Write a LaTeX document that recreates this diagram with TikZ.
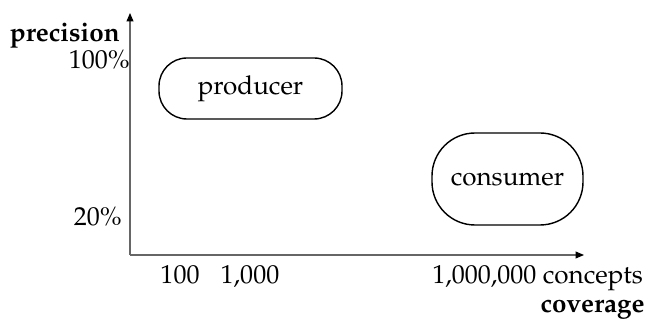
\documentclass[tikz,border=0pt]{standalone}
\usepackage[T1]{fontenc}
\usepackage{mathpazo}
\usepackage{tikz}
\usetikzlibrary{arrows,arrows.meta,shapes,positioning}
\tikzset{axis/.style={gray!80!black, semithick, -{Triangle[black,length=0.17cm,width=0.14cm]}},
         role/.style={draw, thick, inner sep=0pt},
         lbl/.style={inner sep=0pt, font=\fontsize{14.8}{17}\selectfont},
         head/.style={lbl, font=\fontsize{14.8}{17}\selectfont\bfseries}}

\begin{document}
\begin{tikzpicture}
\useasboundingbox (0,0) rectangle (12.96,6.44);

\coordinate (O) at (2.6,1.34);
\coordinate (ytop) at (2.6,6.18);
\coordinate (xend) at (11.68,1.34);

\draw[axis] (O) -- (ytop);
\draw[axis] (O) -- (xend);

% axis labels
\node[head,anchor=base east] (prec) at (2.4,5.6) {precision};
\node[lbl,anchor=base east] (hi) at (2.6,5.07) {100\%};
\node[lbl,anchor=base east] (lo) at (2.44,1.93) {20\%};

\node[lbl,anchor=base] (c100) at (3.6,0.77) {100};
\node[lbl,anchor=base] (c1k) at (5.0,0.77) {1,000};
\node[lbl,anchor=base west] (c1m) at (8.64,0.77) {1,000,000 concepts};
\node[head,anchor=base east] (cov) at (12.9,0.18) {coverage};

% the two roles
\node[lbl,role,minimum width=3.66cm,minimum height=1.22cm,rounded corners=0.56cm] (prod) at (5.01,4.67) {producer};
\node[lbl,role,minimum width=3.02cm,minimum height=1.84cm,rounded corners=0.86cm] (cons) at (10.15,2.86) {consumer};

\end{tikzpicture}
\end{document}
